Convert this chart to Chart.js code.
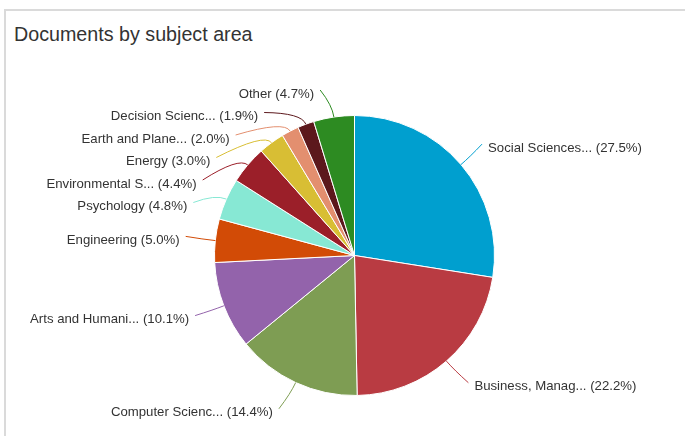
<!DOCTYPE html>
<html>
<head>
<meta charset="utf-8">
<title>Documents by subject area</title>
<script src="https://cdn.jsdelivr.net/npm/chart.js@4.4.1/dist/chart.umd.min.js"></script>
<style>
    html, body { margin: 0; padding: 0; background: #fff; }
    body { width: 685px; height: 436px; position: relative; overflow: hidden; }
    .panel {
        position: absolute; left: 4px; top: 9px; right: 0; bottom: -4px;
        border-top: 2px solid #dadada; border-left: 2px solid #dadada;
    }
    .panel-title {
        position: absolute; left: 14px; top: 23px;
        font: 19.7px "Liberation Sans", Arial, sans-serif; color: #333;
        white-space: nowrap;
    }
    #subjectPie { position: absolute; left: 0; top: 0; }
</style>
</head>
<body>
<div class="panel"></div>
<div class="panel-title">Documents by subject area</div>
<canvas id="subjectPie" width="685" height="436"></canvas>
<script>
    // subject areas (names shortened the way the dashboard shows them)
    const subjectNames = [
        'Social Sciences...', 'Business, Manag...', 'Computer Scienc...', 'Arts and Humani...',
        'Engineering', 'Psychology', 'Environmental S...', 'Energy',
        'Earth and Plane...', 'Decision Scienc...', 'Other'
    ];
    // share of documents, percent
    const subjectShares = [27.5, 22.2, 14.4, 10.1, 5.0, 4.8, 4.4, 3.0, 2.0, 1.9, 4.7];
    const subjectColors = [
        '#009fcf', '#b93b42', '#7e9d53', '#9363ab', '#d24b06', '#87e8d4',
        '#9b1f29', '#d8be34', '#e38f6f', '#5c181c', '#2d8b22'
    ];

    // outside labels with connector lines
    const outsideLabels = {
        id: 'outsideLabels',
        afterDatasetsDraw(chart) {
            const ctx = chart.ctx;
            const meta = chart.getDatasetMeta(0);
            const values = chart.data.datasets[0].data;
            const gap = 22.5;
            const distance = 30;
            const items = [];

            meta.data.forEach((arc, i) => {
                const mid = (arc.startAngle + arc.endAngle) / 2;
                const r = arc.outerRadius;
                items.push({
                    i, mid, r, cx: arc.x, cy: arc.y,
                    left: Math.cos(mid) < 0,
                    y: arc.y + (r + distance) * Math.sin(mid) + 3
                });
            });

            // push overlapping labels down on each side
            const top = chart.chartArea.top - 21;
            [true, false].forEach(side => {
                const list = items.filter(it => it.left === side).sort((a, b) => a.y - b.y);
                let prev = -Infinity;
                list.forEach(it => {
                    it.y = Math.max(it.y, top, prev + gap);
                    prev = it.y;
                });
            });

            ctx.save();
            ctx.font = '13.2px "Liberation Sans", Arial, sans-serif';
            ctx.textBaseline = 'middle';
            items.forEach(it => {
                const R = it.r + distance;
                const dir = it.left ? -1 : 1;
                const dy = it.y - 5 - it.cy;
                const ax = it.cx + dir * Math.sqrt(Math.max(R * R - dy * dy, 0));
                const ex = it.cx + it.r * Math.cos(it.mid);
                const ey = it.cy + it.r * Math.sin(it.mid);
                const kx = it.cx + (it.r + 12) * Math.cos(it.mid);
                const ky = it.cy + (it.r + 12) * Math.sin(it.mid);

                ctx.strokeStyle = subjectColors[it.i];
                ctx.lineWidth = 1;
                ctx.beginPath();
                ctx.moveTo(ex, ey);
                ctx.quadraticCurveTo(kx, ky, ax, it.y - 4);
                ctx.stroke();

                ctx.fillStyle = '#333';
                ctx.textAlign = it.left ? 'right' : 'left';
                const text = chart.data.labels[it.i] + ' (' + values[it.i].toFixed(1) + '%)';
                ctx.fillText(text, ax + dir * 6, it.y);
            });
            ctx.restore();
        }
    };

    const pieCtx = document.getElementById('subjectPie').getContext('2d');
    window.subjectChart = new Chart(pieCtx, {
        type: 'pie',
        data: {
            labels: subjectNames,
            datasets: [{
                data: subjectShares,
                backgroundColor: subjectColors,
                borderColor: '#ffffff',
                borderWidth: 1
            }]
        },
        options: {
            responsive: false,
            animation: false,
            layout: {
                padding: { left: 214, right: 190, top: 115, bottom: 40 }
            },
            plugins: {
                legend: { display: false },
                tooltip: { enabled: false }
            }
        },
        plugins: [outsideLabels]
    });
</script>
</body>
</html>
